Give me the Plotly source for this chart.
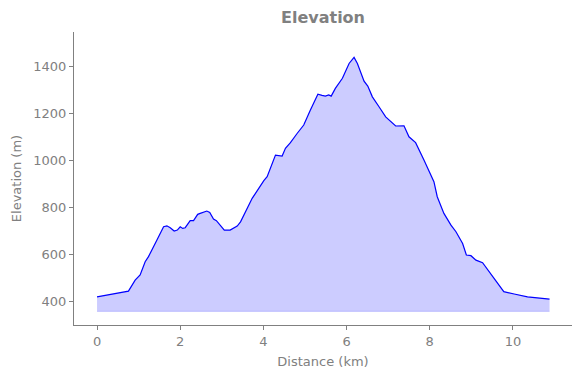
import plotly.graph_objects as go

distance_km = [0.0, 0.755, 0.916, 1.036, 1.157, 1.237, 1.44, 1.6, 1.68, 1.76, 1.855, 1.93, 2.0, 2.06,
               2.12, 2.24, 2.32, 2.42, 2.48, 2.58, 2.64, 2.71, 2.80, 2.87, 2.96, 3.06, 3.20, 3.37,
               3.45, 3.73, 4.01, 4.09, 4.29, 4.45, 4.53, 4.65, 4.81, 4.97, 5.13, 5.31, 5.41, 5.49,
               5.57, 5.63, 5.73, 5.90, 6.06, 6.18, 6.26, 6.42, 6.51, 6.62, 6.78, 6.94, 7.18, 7.38,
               7.50, 7.66, 7.86, 8.01, 8.10, 8.18, 8.34, 8.51, 8.63, 8.79, 8.88, 8.99, 9.11, 9.27,
               9.43, 9.63, 9.78, 10.03, 10.35, 10.88]
elevation_m = [418, 442, 489, 511, 567, 589, 660, 716, 720, 712, 698, 702, 716, 709,
               712, 742, 742, 769, 773, 780, 783, 777, 749, 742, 723, 702, 702, 719,
               737, 837, 912, 929, 1021, 1017, 1050, 1074, 1113, 1149, 1213, 1280, 1275, 1272,
               1277, 1272, 1305, 1348, 1411, 1437, 1411, 1336, 1315, 1269, 1227, 1184, 1145, 1146,
               1099, 1074, 1000, 943, 908, 844, 773, 723, 695, 645, 596, 593, 574, 563,
               525, 475, 440, 430, 418, 408]
fill_base_m = 356
x_ticks = [0, 2, 4, 6, 8, 10]
y_ticks = [400, 600, 800, 1000, 1200, 1400]

gray = "#808080"
fig = go.Figure()
fig.add_trace(go.Scatter(x=distance_km, y=[fill_base_m] * len(distance_km), mode="lines",
                         line=dict(color="rgba(0,0,255,0.2)", width=1), hoverinfo="skip",
                         showlegend=False))
fig.add_trace(go.Scatter(x=distance_km, y=elevation_m, mode="lines", fill="tonexty",
                         fillcolor="rgba(0,0,255,0.2)", line=dict(color="blue", width=1.2),
                         showlegend=False))

axis_common = dict(showgrid=False, zeroline=False, showline=True, linecolor=gray, linewidth=1,
                   ticks="outside", ticklen=4, tickcolor=gray, tickfont=dict(color=gray, size=13),
                   mirror=False, automargin=False)
fig.update_layout(
    width=580, height=378, margin=dict(l=66, r=16, t=24, b=61),
    plot_bgcolor="white", paper_bgcolor="white",
    font=dict(family="DejaVu Sans", color=gray, size=13),
    title=dict(text="<b>Elevation</b>", x=0.5, xanchor="center", xref="paper",
               y=0.989, yanchor="top", font=dict(size=16, color=gray), automargin=False),
    xaxis=dict(range=[-0.554, 11.42], tickvals=x_ticks,
               title=dict(text="Distance (km)", font=dict(size=13, color=gray), standoff=9),
               **axis_common),
    yaxis=dict(range=[298, 1545], tickvals=y_ticks,
               title=dict(text="Elevation (m)", font=dict(size=13, color=gray), standoff=8),
               **axis_common),
)
fig.write_html("out.html")
